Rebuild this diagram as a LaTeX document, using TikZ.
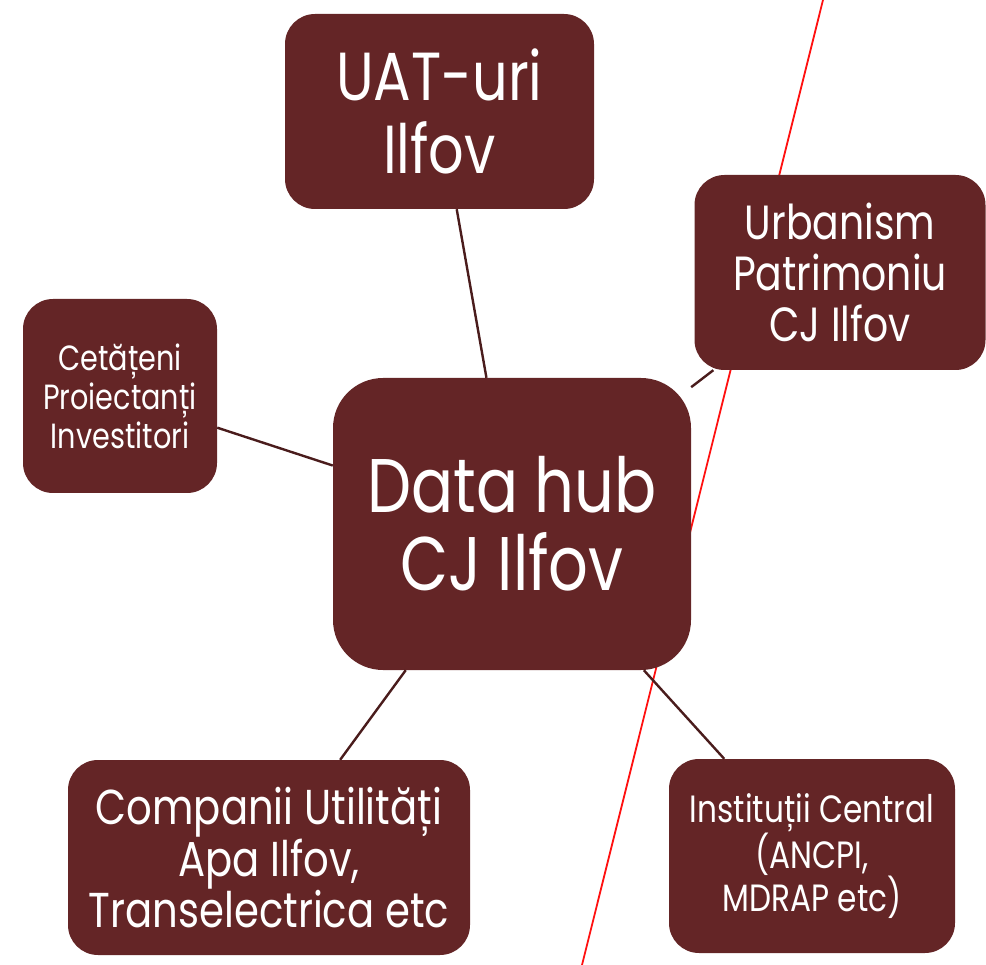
\documentclass[tikz,border=0pt]{standalone}
\usepackage{fontspec}
\setmainfont[FakeStretch=0.82]{Poppins}
\definecolor{boxfill}{HTML}{642526}
\definecolor{linkc}{HTML}{4A1C1C}
\definecolor{redline}{HTML}{FF1010}
\tikzset{
  mbox/.style={draw=none, fill=boxfill, text=white, align=center, inner sep=0pt},
  link/.style={draw=linkc, line width=2.4pt},
  redl/.style={draw=redline, line width=1.8pt}
}
\newcommand{\fs}[2]{\fontsize{#1}{#2}\selectfont}
\begin{document}
\begin{tikzpicture}[x=1pt,y=-1pt]
\useasboundingbox (0,0) rectangle (986,965);
\coordinate (rtop) at (823,0);
\coordinate (rbot) at (582,965);
\draw[redl] (rtop) -- (rbot);
\node[mbox, minimum width=309pt, minimum height=195pt, rounded corners=30pt, font=\fs{68}{73}] (uat) at (439.5,111.5) {UAT-uri\\Ilfov};
\node[mbox, minimum width=291pt, minimum height=195pt, rounded corners=30pt, font=\fs{48}{51}] (urb) at (840,272.5) {Urbanism\\Patrimoniu\\CJ Ilfov};
\node[mbox, minimum width=194pt, minimum height=194pt, rounded corners=30pt, font=\fs{35}{39}] (cet) at (120,396) {Cetățeni\\Proiectanți\\Investitori};
\node[mbox, minimum width=358pt, minimum height=292pt, rounded corners=50pt, font=\fs{76}{78}] (hub) at (512,524) {Data hub\\CJ Ilfov};
\node[mbox, minimum width=402pt, minimum height=195pt, rounded corners=30pt, font=\fs{49}{50}] (comp) at (269,857.5) {Companii Utilități\\Apa Ilfov,\\Transelectrica etc};
\node[mbox, minimum width=286pt, minimum height=194pt, rounded corners=30pt, font=\fs{38}{39}] (inst) at (812,856) {Instituții Central\\(ANCPI,\\MDRAP etc)};
\draw[link] (uat) -- (hub);
\draw[link] (urb) -- (hub);
\draw[link] (cet) -- (hub);
\draw[link] (comp) -- (hub);
\draw[link] (inst) -- (hub);
\end{tikzpicture}
\end{document}
